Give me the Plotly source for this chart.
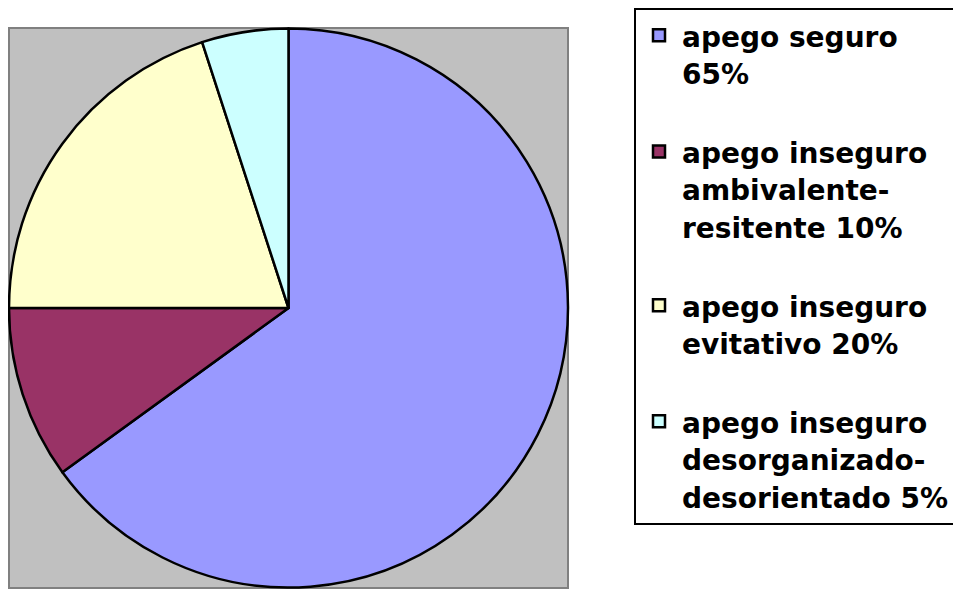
import plotly.graph_objects as go

categories = ["apego seguro", "apego inseguro ambivalente-resitente",
              "apego inseguro evitativo", "apego inseguro desorganizado-desorientado"]
legend_lines = [["apego seguro", "65%", " "],
                ["apego inseguro", "ambivalente-", "resitente 10%", " "],
                ["apego inseguro", "evitativo 20%", " "],
                ["apego inseguro", "desorganizado-", "desorientado 5%"]]
values = [65, 10, 20, 5]
colors = ["#9999FF", "#993366", "#FFFFCC", "#CCFFFF"]

W, H = 953, 593  # page body has an 8px margin

legend_labels = ["<br>".join(f'<span style="font-size:28px">{ln}</span>' for ln in lines)
                 for lines in legend_lines]

fig = go.Figure(go.Pie(
    labels=legend_labels,
    values=values,
    sort=False,
    direction="clockwise",
    rotation=0,
    marker=dict(colors=colors, line=dict(color="black", width=2.5)),
    textinfo="none",
    hoverinfo="percent",
))

fig.update_layout(
    width=W, height=H,
    margin=dict(l=1, r=393, t=20, b=13, autoexpand=False),
    paper_bgcolor="white",
    font=dict(family="DejaVu Sans, sans-serif", color="black"),
    shapes=[dict(type="rect", xref="paper", yref="paper", x0=0, x1=1, y0=0, y1=1,
                 fillcolor="#C0C0C0", line=dict(color="#808080", width=2), layer="below")],
    legend=dict(
        xref="container", yref="container",
        x=626/W, y=1.0, xanchor="left", yanchor="top",
        font=dict(size=29, weight="bold", family="DejaVu Sans, sans-serif"),
        bordercolor="black", borderwidth=2, bgcolor="white",
        valign="top", maxheight=1.0, itemwidth=36,
    ),
    showlegend=True,
)

fig.write_html("out.html")
